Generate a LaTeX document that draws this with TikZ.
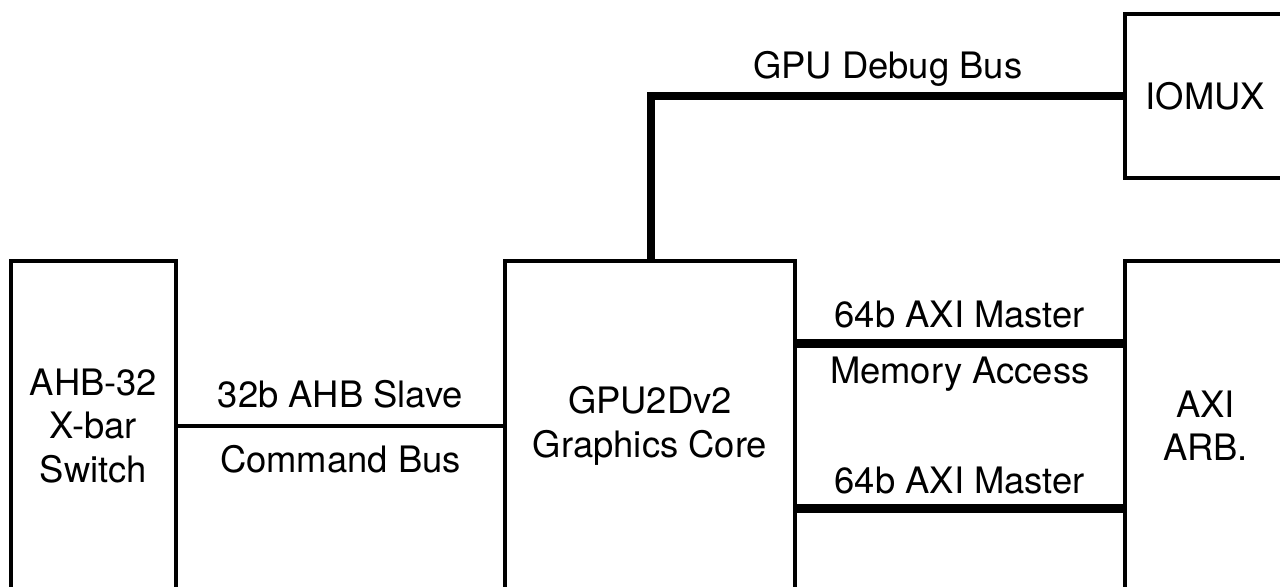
\documentclass[tikz,border=0pt]{standalone}
\usepackage{fontspec}
\setmainfont{TeX Gyre Heros}
\usetikzlibrary{positioning}
\tikzset{
    block/.style={rectangle, draw=black, line width=2pt, fill=white, align=center, minimum height=165pt, inner sep=0pt, outer sep=0pt},
    bus/.style={line width=2pt},
    widebus/.style={line width=4.15pt},
    tag/.style={midway, anchor=base, inner sep=0pt}
}

\begin{document}
\begin{tikzpicture}[x=0.5pt, y=-0.5pt, font=\fontsize{18.2}{21.7}\selectfont]
    \path[use as bounding box, clip] (0,0) rectangle (1280,586);

    \node (ahb) [block, minimum width=82.5pt] at (93.5,426) {AHB-32\\X-bar\\Switch};
    \node (gpu) [block, minimum width=145pt, right=164.5pt of ahb] {GPU2Dv2\\Graphics Core};
    \node (axi) [block, minimum width=81pt, right=164.75pt of gpu] {AXI\\ARB.};
    \node (iomux) [block, minimum width=81pt, minimum height=82pt, above=41.5pt of axi] {IOMUX};

    \draw [bus] (ahb) -- node[tag, yshift=9.5pt] {32b AHB Slave} node[tag, yshift=-23.2pt] {Command Bus} (gpu);
    \draw [widebus] ([yshift=41.25pt]gpu.east) -- node[tag, yshift=8pt] {64b AXI Master} node[tag, yshift=-20.2pt] {Memory Access} ([yshift=41.25pt]axi.west);
    \draw [widebus] ([yshift=-41.25pt]gpu.east) -- node[tag, yshift=7.6pt] {64b AXI Master} ([yshift=-41.25pt]axi.west);
    \draw [widebus] ([xshift=0.5pt]gpu.north) |- node[tag, pos=0.75, yshift=9pt] {GPU Debug Bus} (iomux.west);
\end{tikzpicture}
\end{document}
